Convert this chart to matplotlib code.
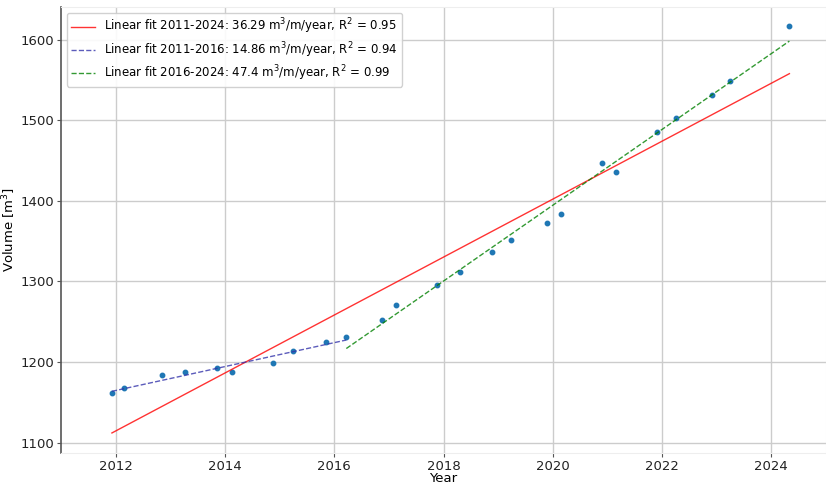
import matplotlib
matplotlib.use('Agg')
import matplotlib.pyplot as plt
import numpy as np

# Survey dates (decimal year) and measured volumes
years = [2011.93, 2012.16, 2012.84, 2013.26, 2013.86, 2014.12, 2014.87, 2015.25,
         2015.85, 2016.22, 2016.88, 2017.13, 2017.88, 2018.30, 2018.89, 2019.23,
         2019.89, 2020.15, 2020.90, 2021.15, 2021.90, 2022.25, 2022.92, 2023.25,
         2024.33]
volume = [1161, 1168, 1184, 1187, 1193, 1187, 1199, 1214,
          1225, 1231, 1252, 1271, 1296, 1312, 1336, 1351,
          1372, 1384, 1447, 1436, 1486, 1503, 1531, 1549,
          1617]

labels = ['Linear fit 2011-2024: 36.29 m$^3$/m/year, R$^2$ = 0.95',
          'Linear fit 2011-2016: 14.86 m$^3$/m/year, R$^2$ = 0.94',
          'Linear fit 2016-2024: 47.4 m$^3$/m/year, R$^2$ = 0.99']

x = np.array(years)
y = np.array(volume)

# index ranges for each fit
early = slice(0, 10)
late = slice(9, None)

fig, ax = plt.subplots(figsize=(8.26, 4.83), dpi=100)
fig.subplots_adjust(left=0.074, right=1.0, top=0.986, bottom=0.062)

ax.grid(True, color='#cccccc', linewidth=1)
ax.set_axisbelow(True)

ax.plot(x, y, 'o', color='tab:blue', markersize=3.2)

p_all = np.polyfit(x, y, 1)
ax.plot(x, np.polyval(p_all, x), '-', color='red', alpha=0.8, linewidth=1, label=labels[0])

p_early = np.polyfit(x[early], y[early], 1)
ax.plot(x[early], np.polyval(p_early, x[early]), '--', color='#3333aa', alpha=0.8,
        linewidth=1, label=labels[1])

p_late = np.polyfit(x[late], y[late], 1)
ax.plot(x[late], np.polyval(p_late, x[late]), '--', color='green', alpha=0.8,
        linewidth=1, label=labels[2])

ax.set_xlim(2011.0, 2025.0)
ax.set_ylim(1087, 1641)
ax.set_xticks([2012, 2014, 2016, 2018, 2020, 2022, 2024])
ax.set_yticks([1100, 1200, 1300, 1400, 1500, 1600])
ax.tick_params(labelsize=9.5, length=3, pad=2, color='#555555', labelcolor='#222222')

for side in ['top', 'right', 'bottom']:
    ax.spines[side].set_color('#eeeeee')
ax.spines['left'].set_color('#555555')
ax.spines['left'].set_linewidth(1.2)

ax.set_xlabel('Year', fontsize=9.5, labelpad=-1)
ax.set_ylabel('Volume [m$^3$]', fontsize=9.5, labelpad=2)

ax.legend(loc='upper left', fontsize=8.5, framealpha=0.9, labelspacing=0.3,
          handlelength=2.0, borderpad=0.35)

plt.savefig('out.png', dpi=100)
